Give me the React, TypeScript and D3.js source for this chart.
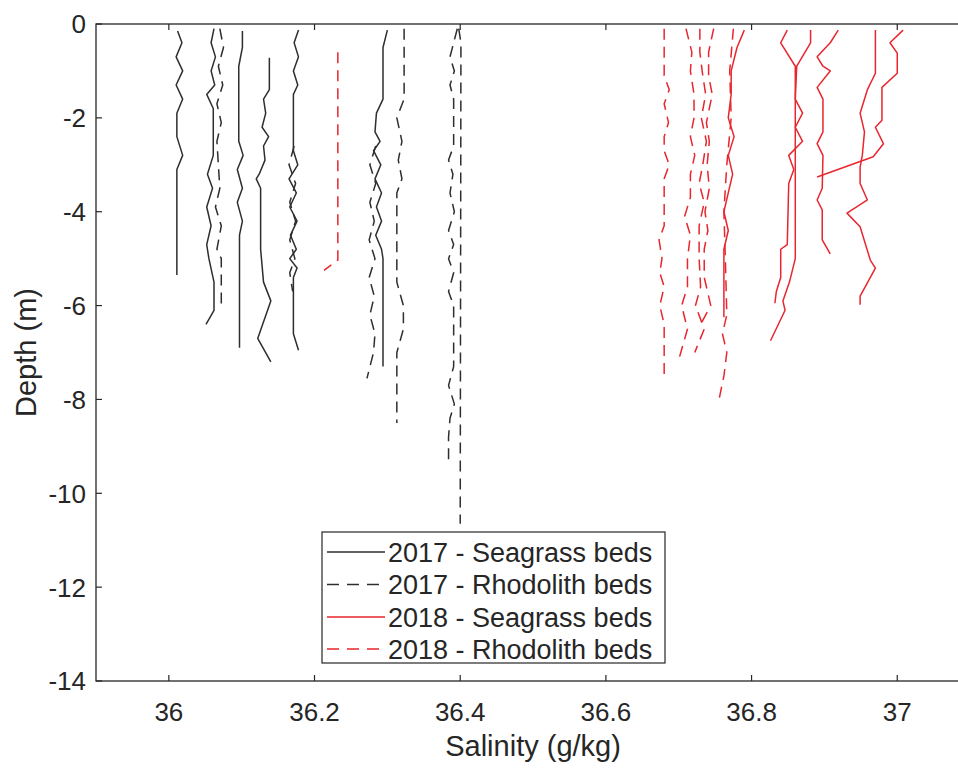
import React from 'react';
import * as d3 from 'd3';

type P = [number, number];

const xTicks = [36, 36.2, 36.4, 36.6, 36.8, 37];
const yTicks = [0, -2, -4, -6, -8, -10, -12, -14];
const legendLabels = ['2017 - Seagrass beds', '2017 - Rhodolith beds', '2018 - Seagrass beds', '2018 - Rhodolith beds'];

// 2017 - Seagrass beds (salinity, depth)
const sg17a: P[] = [[36.012,-0.15],[36.018,-0.4],[36.010,-0.7],[36.019,-1.0],[36.010,-1.3],[36.019,-1.6],[36.011,-1.9],[36.011,-2.4],[36.019,-2.8],[36.011,-3.1],[36.011,-5.35]];
const sg17b: P[] = [[36.062,-0.1],[36.058,-0.4],[36.064,-0.7],[36.058,-1.0],[36.063,-1.3],[36.052,-1.5],[36.061,-1.8],[36.061,-2.8],[36.053,-3.2],[36.060,-3.5],[36.052,-3.9],[36.058,-4.3],[36.052,-4.7],[36.055,-5.0],[36.062,-5.5],[36.062,-6.1],[36.051,-6.4]];
const sg17c: P[] = [[36.101,-0.15],[36.101,-0.5],[36.096,-0.9],[36.096,-2.5],[36.102,-2.8],[36.094,-3.1],[36.101,-3.5],[36.094,-3.8],[36.101,-4.2],[36.097,-4.5],[36.097,-6.9]];
const sg17d: P[] = [[36.138,-0.72],[36.138,-1.4],[36.130,-1.6],[36.133,-1.9],[36.128,-2.2],[36.137,-2.4],[36.130,-2.6],[36.132,-2.9],[36.124,-3.2],[36.120,-3.3],[36.126,-3.5],[36.126,-4.8],[36.130,-5.5],[36.140,-5.9],[36.122,-6.7],[36.140,-7.2]];
const sg17e: P[] = [[36.178,-0.13],[36.172,-0.4],[36.178,-0.7],[36.171,-1.0],[36.177,-1.3],[36.171,-1.5],[36.171,-2.7],[36.177,-3.0],[36.165,-3.3],[36.175,-3.6],[36.166,-3.9],[36.176,-4.2],[36.167,-4.5],[36.175,-4.8],[36.166,-5.0],[36.176,-5.2],[36.171,-5.4],[36.171,-6.6],[36.178,-6.95]];
const sg17f: P[] = [[36.300,-0.13],[36.294,-0.5],[36.294,-1.6],[36.285,-1.9],[36.283,-2.3],[36.290,-2.5],[36.281,-2.7],[36.291,-3.0],[36.283,-3.3],[36.292,-3.6],[36.285,-3.9],[36.292,-4.2],[36.284,-4.5],[36.292,-4.8],[36.294,-5.0],[36.294,-7.3]];

// 2017 - Rhodolith beds
const rh17a: P[] = [[36.070,-0.1],[36.075,-0.5],[36.068,-0.9],[36.074,-1.3],[36.066,-1.7],[36.072,-2.1],[36.066,-2.5],[36.068,-3.0],[36.070,-3.5],[36.064,-3.9],[36.072,-4.3],[36.066,-4.8],[36.072,-5.0],[36.072,-6.1]];
const rh17b: P[] = [[36.172,-2.6],[36.165,-3.0],[36.174,-3.4],[36.166,-3.8],[36.174,-4.2],[36.166,-4.6],[36.173,-5.0],[36.166,-5.3],[36.170,-5.7]];
const rh17c: P[] = [[36.284,-2.6],[36.276,-3.0],[36.284,-3.4],[36.276,-3.8],[36.282,-4.2],[36.275,-4.6],[36.283,-5.0],[36.275,-5.4],[36.282,-5.8],[36.276,-6.2],[36.283,-6.6],[36.281,-7.0],[36.272,-7.55]];
const rh17d: P[] = [[36.323,-0.1],[36.323,-1.6],[36.313,-2.0],[36.320,-2.5],[36.315,-2.9],[36.320,-3.3],[36.313,-3.6],[36.313,-5.5],[36.322,-6.0],[36.322,-6.5],[36.313,-7.0],[36.313,-8.5]];
const rh17e: P[] = [[36.398,-0.1],[36.401,-0.4],[36.400,-10.65]];
const rh17f: P[] = [[36.396,-0.1],[36.386,-0.7],[36.392,-1.0],[36.386,-1.3],[36.391,-1.6],[36.391,-2.6],[36.384,-2.9],[36.390,-3.2],[36.386,-3.6],[36.392,-4.0],[36.384,-4.4],[36.391,-4.7],[36.384,-5.0],[36.391,-5.3],[36.384,-5.7],[36.391,-6.0],[36.391,-7.3],[36.384,-7.7],[36.392,-8.1],[36.386,-8.4],[36.384,-8.8],[36.384,-9.4]];

// 2018 - Seagrass beds
const sg18a: P[] = [[36.790,-0.13],[36.780,-0.5],[36.772,-1.0],[36.772,-1.5],[36.768,-2.0],[36.776,-2.4],[36.768,-2.8],[36.774,-3.2],[36.768,-3.6],[36.762,-4.0],[36.768,-4.4],[36.762,-4.8],[36.762,-6.25]];
const sg18b: P[] = [[36.849,-0.13],[36.840,-0.4],[36.860,-0.9],[36.860,-5.0],[36.852,-5.5],[36.843,-5.9],[36.846,-6.1],[36.826,-6.75]];
const sg18c: P[] = [[36.881,-0.13],[36.881,-0.4],[36.862,-0.9],[36.860,-1.6],[36.870,-1.9],[36.860,-2.2],[36.870,-2.5],[36.851,-2.8],[36.858,-3.1],[36.851,-3.4],[36.849,-4.7],[36.840,-4.8],[36.840,-5.4],[36.834,-5.7],[36.832,-5.95]];
const sg18d: P[] = [[36.919,-0.13],[36.908,-0.4],[36.890,-0.7],[36.898,-0.9],[36.908,-1.0],[36.890,-1.35],[36.898,-1.6],[36.898,-2.3],[36.890,-2.55],[36.898,-2.8],[36.897,-3.5],[36.890,-3.75],[36.897,-3.96],[36.897,-4.6],[36.908,-4.9]];
const sg18e: P[] = [[36.970,-0.13],[36.970,-1.05],[36.959,-1.4],[36.949,-1.9],[36.955,-2.3],[36.952,-2.8],[36.949,-3.05],[36.949,-3.4],[36.959,-3.75],[36.931,-4.03],[36.949,-4.32],[36.963,-5.03],[36.970,-5.2],[36.949,-5.8],[36.949,-5.98]];
const sg18f: P[] = [[37.008,-0.13],[36.990,-0.4],[37.000,-0.62],[37.000,-1.05],[36.979,-1.35],[36.979,-2.05],[36.970,-2.2],[36.981,-2.55],[36.967,-2.83],[36.890,-3.26]];

// 2018 - Rhodolith beds
const rh18a: P[] = [[36.232,-0.6],[36.232,-5.03],[36.213,-5.25]];
const rh18b: P[] = [[36.680,-0.1],[36.680,-1.1],[36.687,-1.4],[36.680,-1.7],[36.686,-2.1],[36.680,-2.4],[36.680,-2.7],[36.687,-3.0],[36.680,-3.3],[36.680,-4.3],[36.673,-4.6],[36.677,-5.0],[36.674,-5.3],[36.680,-5.6],[36.674,-6.0],[36.680,-6.4],[36.680,-7.6]];
const rh18c: P[] = [[36.710,-0.1],[36.718,-0.6],[36.716,-1.0],[36.721,-1.5],[36.721,-2.0],[36.716,-2.4],[36.722,-2.8],[36.716,-3.2],[36.716,-3.7],[36.708,-4.1],[36.716,-4.5],[36.712,-5.0],[36.712,-5.6],[36.704,-6.0],[36.712,-6.5],[36.701,-7.1]];
const rh18d: P[] = [[36.729,-0.1],[36.729,-0.6],[36.733,-1.1],[36.737,-1.5],[36.731,-2.0],[36.738,-2.5],[36.733,-3.0],[36.728,-3.4],[36.735,-3.8],[36.728,-4.3],[36.728,-5.0],[36.730,-5.6],[36.723,-6.0],[36.735,-6.5],[36.722,-7.0]];
const rh18e: P[] = [[36.748,-0.1],[36.741,-0.6],[36.741,-1.1],[36.746,-1.5],[36.738,-2.1],[36.742,-2.5],[36.739,-3.0],[36.742,-3.5],[36.736,-4.0],[36.740,-4.4],[36.735,-4.8],[36.735,-5.4],[36.744,-6.0],[36.730,-6.4]];
const rh18f: P[] = [[36.775,-0.1],[36.770,-1.0],[36.772,-2.0],[36.766,-3.0],[36.762,-4.0],[36.764,-5.0],[36.766,-6.2],[36.760,-6.6],[36.766,-7.0],[36.762,-7.5],[36.754,-8.1]];

const BLACK = '#2e2e2e';
const RED = '#e8262e';
const DASH = '11 7';

const groups = [
  { series: [sg17a, sg17b, sg17c, sg17d, sg17e, sg17f], color: BLACK, dash: null as string | null },
  { series: [rh17a, rh17b, rh17c, rh17d, rh17e, rh17f], color: BLACK, dash: DASH },
  { series: [sg18a, sg18b, sg18c, sg18d, sg18e, sg18f], color: RED, dash: null as string | null },
  { series: [rh18a, rh18b, rh18c, rh18d, rh18e, rh18f], color: RED, dash: DASH },
];

const W = 958;
const H = 771;
const AX = '#262626';
const FONT = '"Liberation Sans", Arial, sans-serif';

export default function App() {
  const x = d3.scaleLinear().domain([35.9, 37.1]).range([96, 970.1]);
  const y = d3.scaleLinear().domain([-14, 0]).range([681, 24]);
  const line = d3.line<P>().x((d) => x(d[0])).y((d) => y(d[1]));
  const x0 = x(35.9), x1 = x(37.1), y0 = y(-14), y1 = y(0);
  const tick = 6;
  const legX = 322, legY = 532, legW = 343, legH = 131;
  const rowY = [552, 584.5, 617, 649];

  return (
    <svg width={W} height={H} style={{ position: 'absolute', left: 0, top: 0, background: '#fff' }}>
      <rect x={0} y={0} width={W} height={H} fill="#fff" />
      <defs>
        <clipPath id="plotclip"><rect x={x0} y={y1} width={x1 - x0} height={y0 - y1} /></clipPath>
      </defs>
      <g clipPath="url(#plotclip)">
        {groups.map((g, gi) =>
          g.series.map((s, si) => (
            <path key={`${gi}-${si}`} d={line(s) || ''} fill="none" stroke={g.color}
              strokeWidth={1.5} strokeDasharray={g.dash || undefined} strokeLinejoin="round" />
          ))
        )}
      </g>
      {/* axes box */}
      <rect x={x0} y={y1} width={x1 - x0} height={y0 - y1} fill="none" stroke={AX} strokeWidth={1.3} />
      {xTicks.map((t) => (
        <g key={`xt${t}`}>
          <line x1={x(t)} x2={x(t)} y1={y0} y2={y0 - tick} stroke={AX} strokeWidth={1.2} />
          <line x1={x(t)} x2={x(t)} y1={y1} y2={y1 + tick} stroke={AX} strokeWidth={1.2} />
          <text x={x(t)} y={721} textAnchor="middle" fontFamily={FONT} fontSize={26} fill={AX}>{String(t)}</text>
        </g>
      ))}
      {yTicks.map((t) => (
        <g key={`yt${t}`}>
          <line x1={x0} x2={x0 + tick} y1={y(t)} y2={y(t)} stroke={AX} strokeWidth={1.2} />
          <text x={86} y={y(t)} dy="0.36em" textAnchor="end" fontFamily={FONT} fontSize={26} fill={AX}>{String(t)}</text>
        </g>
      ))}
      <text x={(x0 + x1) / 2} y={756} textAnchor="middle" fontFamily={FONT} fontSize={29} fill={AX}>Salinity (g/kg)</text>
      <text transform={`translate(36, ${(y0 + y1) / 2}) rotate(-90)`} textAnchor="middle" fontFamily={FONT} fontSize={29} fill={AX}>Depth (m)</text>
      {/* legend */}
      <rect x={legX} y={legY} width={legW} height={legH} fill="#fff" stroke={AX} strokeWidth={1.2} />
      {legendLabels.map((lab, i) => (
        <g key={lab}>
          <line x1={327} x2={385} y1={rowY[i]} y2={rowY[i]} stroke={groups[i].color} strokeWidth={1.4}
            strokeDasharray={groups[i].dash ? '12 8' : undefined} />
          <text x={388} y={rowY[i]} dy="0.36em" fontFamily={FONT} fontSize={27} fill={AX}>{lab}</text>
        </g>
      ))}
    </svg>
  );
}
